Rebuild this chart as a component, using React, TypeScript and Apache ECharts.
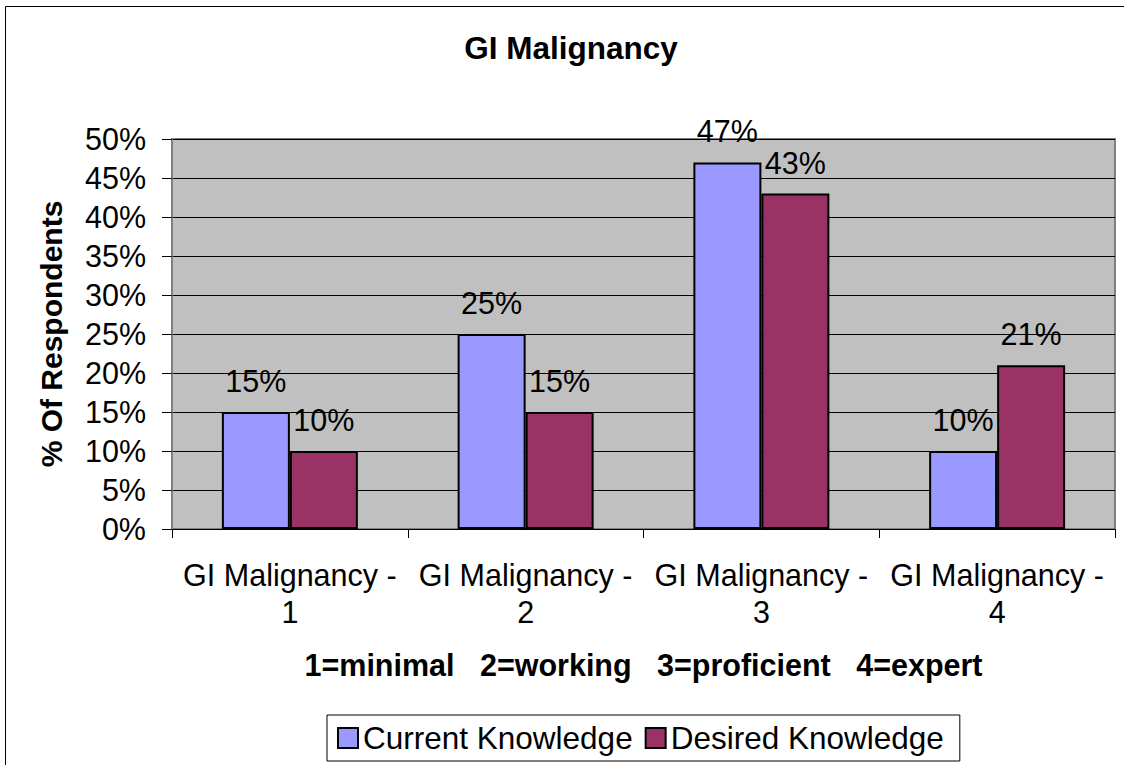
import React, { useEffect, useRef } from "react";
import * as echarts from "echarts";

const categories = ["GI Malignancy -\n1", "GI Malignancy -\n2", "GI Malignancy -\n3", "GI Malignancy -\n4"];
const currentKnowledge = [15, 25, 47, 10];
const desiredKnowledge = [10, 15, 43, 21];
const seriesNames = ["Current Knowledge", "Desired Knowledge"];
const titleText = "GI Malignancy";
const xAxisTitle = "1=minimal   2=working   3=proficient   4=expert";
const yAxisTitle = "% Of Respondents";

const FONT = "'Liberation Sans', Arial, sans-serif";

export default function App() {
  const ref = useRef<HTMLDivElement>(null);
  useEffect(() => {
    document.body.style.margin = "0";
    document.documentElement.style.overflow = "hidden";
    document.body.style.overflow = "hidden";
    if (!ref.current) return;
    const chart = echarts.init(ref.current, undefined, { renderer: "svg" });
    const labelStyle = {
      show: true,
      position: "top" as const,
      distance: 16,
      formatter: "{c}%",
      fontSize: 30.5,
      lineHeight: 30,
      color: "#000",
      fontFamily: FONT,
    };
    chart.setOption({
      animation: false,
      backgroundColor: "#fff",
      textStyle: { fontFamily: FONT },
      graphic: [
        {
          type: "line",
          silent: true,
          z: -10,
          shape: { x1: 5.5, y1: 6.5, x2: 1124, y2: 6.5 },
          style: { stroke: "#000", lineWidth: 1 },
        },
        {
          type: "line",
          silent: true,
          z: -10,
          shape: { x1: 5.5, y1: 6.5, x2: 5.5, y2: 765 },
          style: { stroke: "#000", lineWidth: 1 },
        },
        {
          type: "text",
          x: 571,
          y: 48,
          style: {
            text: titleText,
            textAlign: "center",
            textVerticalAlign: "middle",
            font: `bold 31.5px ${FONT}`,
            fill: "#000",
          },
        },
      ],
      grid: {
        left: 172,
        right: 9,
        top: 139,
        bottom: 236,
        show: true,
        backgroundColor: "#C0C0C0",
        borderColor: "#808080",
        borderWidth: 2,
      },
      legend: {
        data: seriesNames,
        left: 327,
        top: 715,
        orient: "horizontal",
        itemWidth: 20,
        itemHeight: 20,
        itemGap: 12,
        padding: [6, 16, 6, 10],
        borderColor: "#000",
        borderWidth: 1,
        backgroundColor: "#fff",
        icon: "rect",
        textStyle: { fontSize: 31.5, color: "#000", fontFamily: FONT, lineHeight: 34 },
      },
      xAxis: {
        type: "category",
        data: categories,
        name: xAxisTitle,
        nameLocation: "middle",
        nameGap: 120,
        nameTextStyle: { fontSize: 30.5, fontWeight: "bold", color: "#000", fontFamily: FONT },
        axisLine: { show: true, lineStyle: { color: "#000", width: 1 } },
        axisTick: { show: true, length: 9, lineStyle: { color: "#000" } },
        axisLabel: {
          interval: 0,
          margin: 27,
          fontSize: 30.5,
          lineHeight: 37,
          color: "#000",
          fontFamily: FONT,
        },
      },
      yAxis: {
        type: "value",
        min: 0,
        max: 50,
        interval: 5,
        name: yAxisTitle,
        nameLocation: "middle",
        nameGap: 106,
        nameTextStyle: { fontSize: 30, fontWeight: "bold", color: "#000", fontFamily: FONT },
        axisLine: { show: true, lineStyle: { color: "#808080", width: 2 } },
        axisTick: { show: true, length: 10, lineStyle: { color: "#000" } },
        axisLabel: { formatter: "{value}%", margin: 26, fontSize: 30.5, color: "#000", fontFamily: FONT },
        splitLine: { show: true, lineStyle: { color: "#000", width: 1 } },
      },
      series: [
        {
          name: seriesNames[0],
          type: "bar",
          data: currentKnowledge,
          barWidth: 68,
          barGap: "0%",
          itemStyle: { color: "#9999FF", borderColor: "#000", borderWidth: 2 },
          label: labelStyle,
        },
        {
          name: seriesNames[1],
          type: "bar",
          data: desiredKnowledge,
          barWidth: 68,
          barGap: "0%",
          itemStyle: { color: "#993366", borderColor: "#000", borderWidth: 2 },
          label: labelStyle,
        },
      ],
    });
    return () => chart.dispose();
  }, []);
  return <div ref={ref} style={{ width: 1124, height: 765 }} />;
}
